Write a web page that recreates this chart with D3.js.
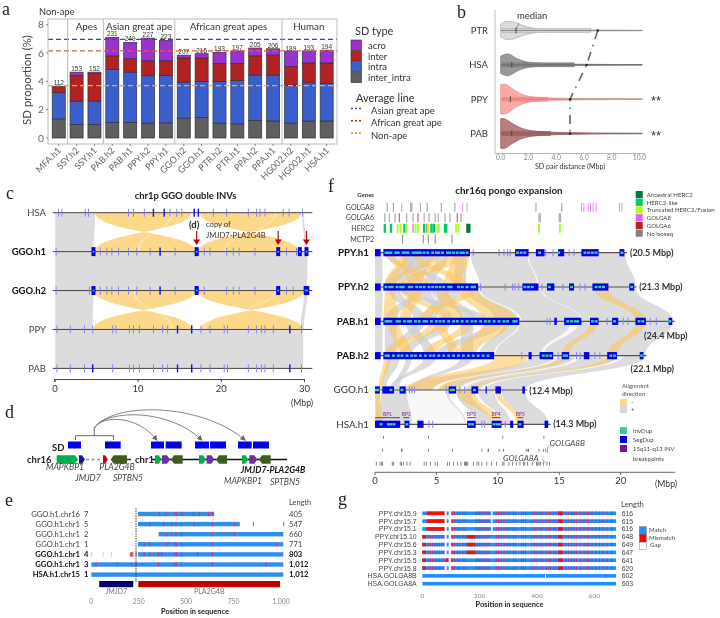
<!DOCTYPE html>
<html><head><meta charset="utf-8">
<script src="https://cdnjs.cloudflare.com/ajax/libs/d3/7.8.5/d3.min.js"></script>
<style>html,body{margin:0;padding:0;background:#fff}svg{display:block;filter:blur(.4px)}text{font-family:Lato,"Open Sans",sans-serif}</style>
</head><body><svg id="c" width="720" height="618"></svg>
<script>
// ---------- panel a data
const aSamples=["MFA.h1","SSY.h2","SSY.h1","PAB.h2","PAB.h1","PPY.h2","PPY.h1","GGO.h2","GGO.h1","PTR.h2","PTR.h1","PPA.h2","PPA.h1","HG002.h2","HG002.h1","HSA.h1"];
const aInterIntra=[1.35,.95,.95,1.1,1.1,1.05,1.07,1.4,1.45,1.05,1.0,1.25,1.2,1.05,1.2,1.2];
const aIntra=[1.85,1.65,1.65,3.75,3.55,3.35,3.35,2.55,2.55,2.95,3.05,3.2,3.25,2.65,2.7,2.65];
const aInter=[.45,1.8,1.95,.95,.95,1.05,1.03,1.7,1.65,1.25,1.2,1.35,1.4,1.35,1.4,1.45];
const aAcro=[0,.25,.1,1.3,1.15,1.6,1.45,.2,.3,.8,.9,.55,.45,1.05,.85,.9];
const aCounts=[112,153,152,231,249,227,223,207,215,193,197,205,206,189,193,194];
const aAverages=[6.97,6.15,3.7];
const aFacetEnds=["MFA.h1","SSY.h1","PPY.h1","PPA.h1"];
const aFacetNames=["Apes","Asian great ape","African great apes","Human"];
const aFacetCenters=[1.55,4.5,9.5,14];
const aYTicks=[0,2,4,6,8];
// ---------- panel b data
const bRows=["PTR","HSA","PPY","PAB"];
const bDensityAt=[0,.2,.5,.8,1.2,1.6,2,2.5,3,4,5,6.5,8,10.2];
const bPTR=[.72,.9,1,.98,.8,.55,.38,.22,.14,.09,.07,.06,.05,.03];
const bHSA=[.78,.9,1,.85,.55,.36,.24,.17,.13,.09,.06,.05,.03,.02];
const bPPY=[.98,1,.92,.72,.48,.3,.2,.14,.1,.07,.05,.04,.03,.02];
const bPAB=[.98,1,.88,.68,.48,.32,.22,.16,.12,.08,.06,.04,.03,.02];
const bHalfWidth=[9,11,15,15];
const bQ3=[6.5,5.3,3.4,3.6];
const bQ1=[.1,.1,.15,.1];
const bMedian=[1.1,.8,.7,.8];
const bMean=[7.0,6.2,5.0,5.0];
const bStars=["","","**","**"];
// ---------- panel c data
const cRows=["HSA","GGO.h1","GGO.h2","PPY","PAB"];
const cThin=[
[.5,.9,3.7,4.1,8.9,9.5,10.8,11.9,13.9,14.7,15.3,16.8,17.3,19.1,20.7,23.3,24.3,24.7,25.3,27.5,28.2,29.8],
[.2,5.5,6.3,6.9,7.7,8.9,9.9,11.5,12.7,14.5,18,18.7,20.7,21.5,22.2,24.1,27.9,29.1],
[.2,4.2,5.5,6.3,6.9,7.7,8.9,9.9,11.5,12.7,14.5,18,20.7,21.5,22.2,24.1,27.9,28.7],
[.3,1.9,3.6,4.6,7,7.4,9,9.5,10.2,11.9,13,13.6,16.5,17.6,18.7,20.4,20.8,23.3,24.3,24.9,25.3,26.3,29.7],
[.3,1.9,3.6,4.6,7,9,9.5,10.2,11.9,13,13.6,16.5,17.6,18.7,20.4,20.8,23.3,24.3,24.9,25.3,26.3,29.7]];
const cBold=[[11.9,13.2,16.8,17.3],[12.7],[12.7],[14.8,16.5,28.3],[4.6,14.8,16.5,28.3]];
const cBig=[[],[4.7,17.1,26.9,29.5,30.3],[4.7,17.1,26.9,30.2,30.4],[],[]];
const cGray=[[0,.1,4.9,.1,4.7],[0,29.8,30,30.1,30.4],[1,.1,30.4,.1,30.4],[2,.1,4.7,.1,4.6],[2,30,30.4,29.6,30],[3,.1,29.9,.1,29.9]];
const cOrange=[[0,4.9,16.4,17,4.9],[0,17.5,29.7,29.3,17.3],[2,4.8,17,16.5,4.7],[2,17.3,30,29.8,17.6]];
const cWhite=[[0,14,14.1,10,10.1],[0,26.5,26.6,20.5,20.6],[2,9.5,9.6,14.1,14.2],[2,26.5,26.6,18,18.1]];
const cArrows=[17.1,26.9,30.3];
const cTicks=[0,10,20,30];
// ---------- panel d data
const dSD=[[20,33],[57,72.7],[103,116],[117.7,133.7],[147,161],[162,178],[190,203.7],[205,221]];
const dGenes=[
[8.7,30,"#00b050",1],[31,37,"#1a1a80",1],[55,60,"#d00000",1],[62.7,79,"#3e5c1e",-1],
[107,113.7,"#00b050",1],[114,122,"#7030a0",1],[123,134.7,"#3e5c1e",-1],
[151,158,"#00b050",1],[158.7,166.3,"#7030a0",1],[168,179,"#3e5c1e",-1],
[194,200.3,"#00b050",1],[201.3,209.3,"#7030a0",1],[211,222.7,"#3e5c1e",-1]];
const dArcTargets=[[108.7,415],[153.7,408.7],[197,402]];
const dLabels=[["MAPKBP1",17,470,"normal"],["PLA2G4B",69,470,"normal"],["JMJD7",40,480.6,"normal"],["SPTBN5",80,480.6,"normal"],["JMJD7-PLA2G4B",225,473,"bold"],["MAPKBP1",195,484,"normal"],["SPTBN5",237,485,"normal"]];
// ---------- panel e data
const eRows=["GGO.h1.chr16","GGO.h1.chr1","GGO.h1.chr1","GGO.h1.chr1","GGO.h1.chr1","GGO.h1.chr1","HSA.h1.chr15"];
const eCopies=[7,5,2,1,4,3,1];
const eLengths=["405","547","660","771","803","1,012","1,012"];
const eBold=[0,0,0,0,1,1,1];
const eStart=[246,246,355,246,246,0,0];
const eEnd=[648,783,1012,1012,1012,1012,1012];
const eMis=[[358,394,441,450,478,538,568,617,638],[309,380,424,446,476,541,638,754,854,1014],[397,424,446,476,638,754],[278,309,397,441,450,476,638,977],[278,309,353,371,441,450,476,559,638,207,211,215,219,236],[25,137,213,235,353,441,450,476,638,921],[]];
const ePale=[[213],[213],[213],[213],[2,63,107],[],[]];
const eGenes=[["JMJD7",42,221,"#00006e"],["PLA2G4B",248,995,"#c00000"]];
const eTicks=[0,250,500,750,1000];
// ---------- panel f data
const fRows=["PPY.h1","PPY.h2","PAB.h1","PAB.h2","GGO.h1","HSA.h1"];
const fLen=[20.5,21.3,24.4,22.1,12.4,14.3];
const fBold=[1,1,1,1,0,0];
const fSizeText=["(20.5 Mbp)","(21.3 Mbp)","(24.4 Mbp)","(22.1 Mbp)","(12.4 Mbp)","(14.3 Mbp)"];
const fSizeAt=[20.75,21.5,21.9,20.8,12.55,14.5];
const fSizeDy=[3,3,18,16.3,4.5,3];
const fBlocks=[
[[0,.46],[.68,7.73],[11.4,12.5],[13.1,13.8],[14.9,15.4],[16.8,18.2],[19.9,20.3]],
[[0,.46],[.68,8.4],[12,13.3],[14,14.6],[15.8,16.2],[17.7,19],[20.7,21.1]],
[[0,.46],[.68,11.75],[14.6,14.8],[15.4,16.8],[17.5,18.2],[19.3,19.8],[21.2,22.05],[23.9,24.2]],
[[0,.46],[.68,9.7],[12.5,12.75],[13.4,14.5],[15.2,15.8],[17,17.45],[18.9,19.7],[21.55,21.85]],
[[0,.4],[.6,1.55],[2,2.5],[6,6.6],[7.85,8.4],[9,9.1],[9.8,10.25],[12,12.2]],
[[0,.52],[.1,2.05],[2.4,2.8],[3.45,3.95],[7.5,8.2],[9.5,10.3],[11,11.25],[11.6,12.1],[13.8,14.1]]];
const fThin=[
[8,10.1,10.5,10.8,11,13.9,14.5,15.8,16.2],
[8.6,10.6,11.2,11.4,11.7,13.6,15.3,16.7,17.1],
[14,14.25,18.9,20.2,20.6,22.4,22.9],
[11.95,14.9,16.4,16.7,17.9,18.3],
[2.8,3,3.2,5.8,6.9,7.3],
[4.4,4.7,8.7,8.9,10.6]];
const fGreen=[
[.9,1.1,1.3,1.7,1.9,2.3,2.5,2.7,3.1,3.3,3.5,3.7,4,4.3,4.7,5,5.2,5.5,5.9,6.1,6.4,6.7,7,7.2,7.5,11.6,11.9,12.2,13.4,14.95,17.1,17.4,17.7,18,20.1],
[.9,1.2,1.4,1.8,2.1,2.3,2.8,3,3.4,3.7,4,4.4,4.7,5,5.3,5.6,6,6.2,6.8,7.1,7.5,7.9,8.1,12.2,12.5,12.8,14.2,16,18,18.3,18.6,20.9],
[.9,1.1,1.3,1.8,2,2.4,2.7,2.9,3.3,3.6,4,4.2,4.6,5,5.3,5.6,6,6.4,6.7,7.1,7.5,7.9,8.2,8.6,9,9.3,9.7,10.1,10.5,10.8,11.3,11.5,15.7,16,16.3,16.5,17.7,18,19.5,21.5,21.8,24],
[.9,1.1,1.5,1.9,2.2,2.6,3,3.3,3.7,4.1,4.5,4.8,5.2,5.6,6,6.4,6.8,7.2,7.6,8,8.4,8.8,9.2,13.7,14,14.3,15.4,15.6,19.2,19.5,21.7],
[.1,.25,1.3,2.2,6.2,6.4,8.1],
[.5,1.1,1.3,1.55,2.6,7.7,7.95,9.7,9.95,10.15,11.8]];
const fGrayRibbons=[
[0,0,.6,0,.6],[0,7.8,20.4,8.5,21.2],[0,2.5,3.6,.8,1.6],[0,3.4,4.6,3,3.9],[0,4,5,1,1.7],[0,.8,1.5,5,5.9],[0,5,6,4,4.8],[0,6.5,7.5,6.5,7.4],[0,3,3.7,1.8,2.4],[0,2.2,2.9,2.6,3.3],
[1,0,.6,0,.6],[1,8.5,21.2,11.9,24.2],[1,1,2,3.2,4.2],[1,3,3.9,.8,1.7],[1,4.5,5.8,7,8.2],[1,5.5,7,3.8,5],[1,2,3,8,9.2],[1,7.4,8.4,9.8,11.7],[1,3.5,4.5,5.5,6.3],
[2,0,.6,0,.6],[2,11.8,24.2,9.8,22],[2,.8,1.8,.8,1.7],[2,2.5,3.4,4,4.9],[2,5,6.2,2,3],[2,7,8,7,8],[2,3,4,.8,1.6],[2,9,10.5,5,6.2],[2,10.5,11.7,8.5,9.7],
[3,12.7,22,2.6,12.3],[3,1,2,.5,.9],[3,4,5,1.2,1.6],[3,7,8,3,3.6],[3,2.5,3,1.6,2],
[4,.5,6,.1,7.4],[4,0,.4,0,.3],[4,6.6,7.8,8.2,9.5],[4,8.4,9.7,10.3,11],[4,10.3,12.2,12,14.1]];
const fOrangeRibbons=[
[0,2,2.8,.8,1.5],[0,5.7,7.3,2,3.2],[0,6.3,7.7,5.6,7],[0,3,3.8,6.4,7.6],[0,1,1.8,3.6,4.4],[0,4.6,5.4,1,1.7],
[1,.8,1.6,.7,1.9],[1,3,3.9,2,2.9],[1,5,6,6,7.2],[1,6.7,8.3,8.8,11.5],[1,2,2.8,5.3,6.3],[1,7.2,8.2,3.5,4.5],[1,17.8,19,21.2,22],
[2,1,2,2,3],[2,4.4,5.6,.8,1.8],[2,7,8,4,5],[2,8.8,11,6.6,8.2],[2,5,5.8,6,6.8],[2,17.5,18.2,15.2,15.8],[2,21.2,22,18.9,19.7],
[3,.7,1.3,.3,.6],[3,9.8,12.5,2.5,6],[3,15.2,15.8,6,6.6],[3,18.9,19.7,7.85,8.4],
[4,.05,.4,.1,.6],[4,6.6,8.1,9.5,10.3],[4,9.8,10.25,11.5,12.1]];
const fWhiteRibbons=[[0,12.4,12.5,13.2,13.3],[1,13.4,13.5,16.8,16.9],[2,15.9,16.6,13.5,13.75],[3,14.6,14.9,4.7,5.2],[3,16.3,16.7,6.9,7.4],[3,19.8,20.2,8.6,9],[4,2.6,5.8,3,7.3]];
const fGolga8Gray=[1,1.5,2.9,3,3.7,4.25,5.4,6.5,13.1,15.2];
const fGolga8Pink=[2.17,7.13,7.5,16.8,17,17.35,17.55,17.75,18,19.9,20.1];
const fGolga6Gray=[.8,1.17,1.63,2.58,3.1,4,4.4,4.9,5.15,5.7,6.1,7,13.35,13.45,15,15.1];
const fGolga6Red=[1.98,3.5,6.7];
const fHercLike=[.8,1.3,2.4,4,4.6,4.8,5.7,5.8];
const fHercTrunc=[1.85,2.1,2.55,3.3,3.5,4.35,5.1,5.2,6.6,6.8,13.35,15.05];
const fHercAnc=[7.5,7.6,7.7];
const fHercGray=[3.1,4.2];
const fMctp2=[2.25,3.93,4.34,4.9,6.27];
const fSites=[
[.68,4.37,10.4,13.75],
[.62,2.15,2.2,4.37,6.3,8.7,9.2,9.25,10.1,10.45,12.3,12.45,12.5,13.35,13.7,13.9],
[.1,.4,.55,.6,1.4,1.5,2.05,2.15,2.3,2.6,2.85,4,4.2,4.5,4.9,5.1,5.9,6.05,6.4,6.7,7,7.3,7.35,7.45,7.55,8,8.3,8.45,8.7,9.1,9.5,9.9,10.4,10.5,10.9,11.2,11.5,11.8,12.1,12.2,12.4,12.8,13.15,13.25,13.35,13.45,13.7,14,14.2]];
const fSiteHeights=[3,3,4];
const fBreaks=[["BP1",0,2.03],["BP2",2.3,2.79],["BP3",7.5,8.2],["BP4",9.5,10.2],["BP5",11.58,12.07]];
const fTicks=[0,5,10,15,20];
const fGeneLegend=[["Ancestral HERC2","#007a3d"],["HERC2-like","#00cc66"],["Truncated HERC2/Fusion","#aaff22"],["GOLGA8","#e066ee"],["GOLGA6","#b22222"],["No isoseq","#808080"]];
// ---------- panel g data
const gRows=["PPY.chr15.9","PPY.chr15.7","PPY.chr15.1","PPY.chr15.10","PPY.chr15.6","PPY.chr15.3","PPY.chr15.5","PPY.chr15.8","HSA.GOLGA8B","HSA.GOLGA8A"];
const gLengths=[616,615,616,648,649,647,641,620,602,603];
const gTicks=[0,200,400,600];
const gSharedMis=[105,112,122,130,142,150,187,192,199,205,212,219,226,232,258,266,274,285,295,305,318,326,345,352,360,382,392,400,410,418,432,441,448,458,466,474,500,510,520,530,538,552,564,574,580,592,605,618,630,644,660];
const gEarlyMis=[20,28,36,45,52,60,68,76];
const gBlocks=[
[[15,80],[475,490]],[[15,80],[475,490]],[[15,80],[475,490]],
[[0,12],[155,185],[475,490]],[[0,12],[155,185],[475,490]],[[0,12],[155,185],[475,490]],
[[0,12],[82,103],[475,490]],[[0,12],[475,490]],[],[]];
const gGaps=[[[78,85],[92,100],[240,245]],[[78,85],[92,100],[240,245]],[[78,85],[92,100],[240,245]],
[[78,85],[92,100]],[[78,85],[92,100]],[[78,85],[92,100]],[[92,100]],[[78,85],[92,100]],[[428,431]],[]];
const gExtra=[[],[],[],[],[],[],[],[],[640],[]];
const gEnd=676;

// ---------- drawing
const svg=d3.select("#c");
const DK="#333",GR="#666",FS=1.09;
function letter(t,x,y){svg.append("text").text(t).attr("x",x).attr("y",y).style("font-family","'Liberation Serif',serif").style("font-size","18px").attr("fill","#222");}
[["a",2,15],["b",457,18],["c",6,199],["d",5,418],["e",5,506],["f",328,192],["g",338,505]].forEach(d=>letter(...d));
function txt(g,t,x,y,size,opts={}){const s=g.append("text").text(t).attr("x",x).attr("y",y).style("font-size",(size*FS)+"px").attr("fill",opts.fill||DK).attr("text-anchor",opts.anchor||"start");if(opts.weight)s.style("font-weight",opts.weight);if(opts.style)s.style("font-style",opts.style);if(opts.family)s.style("font-family",opts.family);if(opts.rotate!=null)s.attr("transform",`rotate(${opts.rotate},${x},${y})`);return s;}
function ribbonPath(x,y0,y1,r){const[a0,a1,b0,b1]=r,m=(y0+y1)/2,p=d3.path();p.moveTo(x(a0),y0);p.bezierCurveTo(x(a0),m,x(b0),m,x(b0),y1);p.lineTo(x(b1),y1);p.bezierCurveTo(x(b1),m,x(a1),m,x(a1),y0);p.closePath();return p.toString();}

// panel a
(function(){
const g=svg.append("g");
const x=d3.scaleBand().domain(aSamples).range([49.8,335.6]).paddingInner(.27).paddingOuter(.135);
const y=d3.scaleLinear().domain([0,8]).range([138,24.7]);
const rows=aSamples.map((s,i)=>({s,inter_intra:aInterIntra[i],intra:aIntra[i],inter:aInter[i],acro:aAcro[i]}));
const keys=["inter_intra","intra","inter","acro"];
const col=d3.scaleOrdinal(keys,["#5f5f5f","#3a5fcd","#b22222","#9a32cd"]);
g.selectAll("g.s").data(d3.stack().keys(keys)(rows)).join("g").attr("fill",d=>col(d.key)).selectAll("rect").data(d=>d).join("rect")
 .attr("x",d=>x(d.data.s)).attr("width",x.bandwidth()).attr("y",d=>y(d[1])).attr("height",d=>Math.max(0,y(d[0])-y(d[1]))).attr("stroke","#333").attr("stroke-width",.7);
aAverages.forEach((v,i)=>g.append("line").attr("x1",48).attr("x2",337).attr("y1",y(v)).attr("y2",y(v)).attr("stroke",["#4040c0","#dd5555","#e6b030"][i]).attr("stroke-width",1.3).attr("stroke-dasharray","5 3"));
g.selectAll("text.c").data(aCounts).join("text").attr("x",(d,i)=>x(aSamples[i])+x.bandwidth()/2).attr("y",(d,i)=>y(aInterIntra[i]+aIntra[i]+aInter[i]+aAcro[i])-1).attr("text-anchor","middle").style("font-size","6.5px").style("font-family","'Liberation Sans',sans-serif").attr("fill","#333").text(d=>d);
g.append("rect").attr("x",48).attr("y",19).attr("width",289).attr("height",125).attr("fill","none").attr("stroke","#bbb").attr("stroke-width",1);
aFacetEnds.forEach(s=>{const p=x(s)+x.step()-(x.step()-x.bandwidth())/2;g.append("line").attr("x1",p).attr("x2",p).attr("y1",19).attr("y2",144).attr("stroke","#bbb");});
aFacetNames.forEach((n,i)=>txt(g,n,x(aSamples[0])+x.bandwidth()/2+aFacetCenters[i]*x.step(),29.5,9,{anchor:"middle"}));
txt(g,"Non-ape",39,14.5,8.5);
aYTicks.forEach(v=>{txt(g,v,44,y(v)+3.5,9.5,{anchor:"end",fill:"#666"});g.append("line").attr("x1",46).attr("x2",48).attr("y1",y(v)).attr("y2",y(v)).attr("stroke","#888");});
txt(g,"SD proportion (%)",31,80,10.5,{anchor:"middle",rotate:-90,fill:"#444"});
aSamples.forEach(s=>{const c=x(s)+x.bandwidth()/2;g.append("line").attr("x1",c).attr("x2",c).attr("y1",144).attr("y2",146).attr("stroke","#888");txt(g,s,c+3,151,8.3,{anchor:"end",rotate:-45,fill:"#666"});});
txt(g,"SD type",355,35,10,{fill:"#333"});
["acro","inter","intra","inter_intra"].forEach((k,i)=>{g.append("rect").attr("x",351).attr("y",40+i*10.8).attr("width",10.5).attr("height",10.2).attr("fill",col(k)).attr("stroke","#333").attr("stroke-width",.6);txt(g,k,368,48.7+i*10.8,8.7);});
txt(g,"Average line",356,102,10,{fill:"#333"});
["Asian great ape","African great ape","Non-ape"].forEach((k,i)=>{g.append("line").attr("x1",351).attr("x2",361).attr("y1",108.5+i*12.3).attr("y2",108.5+i*12.3).attr("stroke",["#4040c0","#c02020","#e6a020"][i]).attr("stroke-width",1.6).attr("stroke-dasharray","2 2");txt(g,k,371,114+i*12.3,8.7);});
})();

// panel b
(function(){
const g=svg.append("g");
const x=d3.scaleLinear().domain([0,10]).range([500.7,639.4]);
const y=d3.scalePoint().domain(bRows).range([30.5,133.5]);
g.append("path").attr("d","M495,10V153.5H645").attr("fill","none").attr("stroke","#bbb").attr("stroke-width",1);
const fills=["#dcdcdc","#9a9a9a","#ffa8a8","#b87e7e"],strokes=["#aaa","#777","#e08a8a","#8a5a5a"],box=["#cfcfcf","#858585","#ff8d8d","#a06464"],wh=["#888","#666","#b88","#866"];
const dens=[bPTR,bHSA,bPPY,bPAB];
bRows.forEach((r,i)=>{const c=y(r),w=bHalfWidth[i];
 const area=d3.area().x(d=>x(d[0])).y0(d=>c-d[1]*w).y1(d=>c+d[1]*w).curve(d3.curveMonotoneX);
 g.append("path").attr("d",area(bDensityAt.map((a,j)=>[a,dens[i][j]]))).attr("fill",fills[i]).attr("stroke",strokes[i]).attr("stroke-width",.7);
 g.append("rect").attr("x",x(bQ1[i])).attr("y",c-2).attr("width",x(bQ3[i])-x(bQ1[i])).attr("height",4).attr("fill",box[i]).attr("stroke",strokes[i]).attr("stroke-width",.5);
 g.append("line").attr("x1",x(0)).attr("x2",x(10.2)).attr("y1",c).attr("y2",c).attr("stroke",wh[i]).attr("stroke-width",.9);
 g.append("line").attr("x1",x(bMedian[i])).attr("x2",x(bMedian[i])).attr("y1",c-3).attr("y2",c+3).attr("stroke","#444").attr("stroke-width",.9);
 txt(g,r,488,c+3.5,8.7,{anchor:"end"});
 if(bStars[i])txt(g,bStars[i],651,c+6,12,{family:"'Liberation Sans',sans-serif"});
});
const ln=d3.line().x(d=>x(d[0])).y(d=>y(d[1]));
g.append("path").attr("d",ln(bRows.map((r,i)=>[bMean[i],r]))).attr("fill","none").attr("stroke","#666").attr("stroke-width",1.6).attr("stroke-dasharray","9 6 1.5 6");
bRows.forEach((r,i)=>g.append("circle").attr("cx",x(bMean[i])).attr("cy",y(r)).attr("r",1.2).attr("fill","#222"));
x.ticks(4).forEach(v=>txt(g,d3.format(".1f")(v),x(v),159.5,6.2,{anchor:"middle",fill:"#888"}));
txt(g,"SD pair distance (Mbp)",570,168.5,6.5,{anchor:"middle",fill:"#333"});
txt(g,"median",517,19,8.7,{fill:"#333"});
g.append("line").attr("x1",x(bMedian[0])).attr("x2",x(bMedian[0])+3).attr("y1",30).attr("y2",23).attr("stroke","#555").attr("stroke-width",.6);
})();

// panel c
(function(){
const g=svg.append("g");
const x=d3.scaleLinear().domain([0,30]).range([54.4,304]);
const y=d3.scalePoint().domain(cRows).range([212.7,368.4]);
const ry=i=>y(cRows[i]);
const draw=(arr,fill,op)=>g.selectAll(null).data(arr).join("path").attr("d",r=>ribbonPath(x,ry(r[0]),ry(r[0]+1),r.slice(1))).attr("fill",fill).attr("opacity",op);
draw(cGray,"#dcdcdc",1);draw(cOrange,"#fbd88a",1);draw(cWhite,"#fff",.8);
cRows.forEach((r,i)=>{const c=ry(i);
 g.append("line").attr("x1",x(-.2)).attr("x2",x(31)).attr("y1",c).attr("y2",c).attr("stroke","#444").attr("stroke-width",1);
 g.selectAll(null).data(cThin[i]).join("rect").attr("x",d=>x(d)-.4).attr("width",.9).attr("y",c-4).attr("height",8).attr("fill","#7a7aff");
 g.selectAll(null).data(cBold[i]).join("rect").attr("x",d=>x(d)-.7).attr("width",1.4).attr("y",c-4).attr("height",8).attr("fill","#1010ee");
 g.selectAll(null).data(cBig[i]).join("rect").attr("x",d=>x(d)-2).attr("width",4).attr("y",c-4.5).attr("height",9).attr("fill","#0000ee");
 g.selectAll(null).data(cBig[i]).join("circle").attr("cx",d=>x(d)).attr("cy",c).attr("r",1).attr("fill","#33cc88");
 txt(g,r,46,c+3.3,8.7,{anchor:"end",weight:(i==1||i==2)?"700":null,fill:(i==1||i==2)?"#111":"#444"});
});
txt(g,"chr1p GGO double INVs",185.5,199,8.7,{anchor:"middle",weight:"700",fill:"#222"});
txt(g,"(d)",189,228,8.7,{weight:"700",fill:"#222"});
txt(g,"copy of",206,227,7,{fill:"#333"});
txt(g,"JMJD7-PLA2G4B",206,238,7,{fill:"#333"});
cArrows.forEach(v=>{g.append("line").attr("x1",x(v)).attr("x2",x(v)).attr("y1",231).attr("y2",240).attr("stroke","#c00000").attr("stroke-width",1.2);g.append("path").attr("d",`M${x(v)-3.5},239.5h7L${x(v)},245Z`).attr("fill","#c00000");});
g.append("g").attr("transform","translate(0,379)").call(d3.axisBottom(x).tickValues(cTicks).tickSize(3).tickFormat(d3.format("d"))).call(s=>{s.selectAll("text").attr("fill","#333").style("font-size","9.5px").style("font-family","Lato").attr("dy",".7em");s.selectAll("path,line").attr("stroke","#444");});
txt(g,"(Mbp)",291,406,8,{fill:"#333"});
})();

// panel d
(function(){
const g=svg.append("g");
const x=d3.scaleLinear().domain([0,250]).range([48,298]);
const cy=459.5;
g.append("defs").append("marker").attr("id","ah").attr("viewBox","0 0 10 10").attr("refX",8).attr("refY",5).attr("markerWidth",7).attr("markerHeight",7).attr("orient","auto").append("path").attr("d","M0,0L10,5L0,10Z").attr("fill","#666");
g.selectAll(null).data(dSD).join("rect").attr("x",d=>x(d[0])).attr("width",d=>x(d[1])-x(d[0])).attr("y",441.5).attr("height",7).attr("fill","#0000ee");
g.append("path").attr("d","M75.5,440V435.7H113.5V440M94.3,435.7V427").attr("fill","none").attr("stroke","#444").attr("stroke-width",.8);
dArcTargets.forEach(d=>{const[tx,c]=d;const mx=x(tx);g.append("path").attr("d",`M94.3,428C${94.3+(mx-94.3)*.12},${c} ${94.3+(mx-94.3)*.7},${c} ${mx},440`).attr("fill","none").attr("stroke","#666").attr("stroke-width",.8).attr("marker-end","url(#ah)");});
g.append("line").attr("x1",x(79)).attr("x2",x(83)).attr("y1",cy).attr("y2",cy).attr("stroke","#222").attr("stroke-width",1.4);
g.append("line").attr("x1",x(38)).attr("x2",x(54)).attr("y1",cy).attr("y2",cy).attr("stroke","#999").attr("stroke-width",1.4).attr("stroke-dasharray","3 2.5");
g.append("line").attr("x1",x(104)).attr("x2",x(239)).attr("y1",cy).attr("y2",cy).attr("stroke","#111").attr("stroke-width",1.4);
dGenes.forEach(d=>{const a=x(d[0]),b=x(d[1]),h=4.2,t=3;const pts=d[3]>0?`${a},${cy-h} ${b-t},${cy-h} ${b},${cy} ${b-t},${cy+h} ${a},${cy+h}`:`${a+t},${cy-h} ${b},${cy-h} ${b},${cy+h} ${a+t},${cy+h} ${a},${cy}`;g.append("polygon").attr("points",pts).attr("fill",d[2]);});
txt(g,"SD",52,450.5,8.7,{weight:"700",fill:"#222"});
txt(g,"chr16",27,462.5,8.7,{weight:"700",fill:"#222"});
txt(g,"chr1",135,462.5,8.7,{weight:"700",fill:"#222"});
dLabels.forEach(l=>txt(g,l[0],x(l[1]),l[2],7.9,{anchor:"middle",style:"italic",weight:l[3]=="bold"?"700":null,fill:l[3]=="bold"?"#111":"#444"}));
g.append("line").attr("x1",254).attr("x2",258).attr("y1",463).attr("y2",468).attr("stroke","#777").attr("stroke-width",.6);
})();

// panel e
(function(){
const g=svg.append("g");
const x=d3.scaleLinear().domain([0,1000]).range([91.3,281]);
const y=d3.scalePoint().domain(d3.range(7)).range([514,574.6]);
eRows.forEach((r,i)=>{const c=y(i),bold=eBold[i]?"700":null,fill=eBold[i]?"#111":"#444";
 txt(g,r,80,c+2.5,7,{anchor:"end",weight:bold,fill});
 txt(g,eCopies[i],84,c+2.5,7,{weight:bold,fill});
 g.append("rect").attr("x",x(eStart[i])).attr("width",x(eEnd[i])-x(eStart[i])).attr("y",c-2.2).attr("height",4.4).attr("fill","#2f8ff0");
 g.selectAll(null).data(eMis[i]).join("rect").attr("x",d=>x(d)-.4).attr("width",.9).attr("y",c-2.2).attr("height",4.4).attr("fill","#e03050");
 g.selectAll(null).data(ePale[i]).join("rect").attr("x",d=>x(d)-.5).attr("width",1).attr("y",c-2.2).attr("height",4.4).attr("fill",i==4?"#f8c0c0":"#d6ebfb");
 txt(g,eLengths[i],289,c+2.5,7,{weight:bold,fill});
});
txt(g,"Length",289,505,6.8,{fill:"#444"});
g.append("line").attr("x1",136).attr("x2",136).attr("y1",508).attr("y2",582).attr("stroke","#333").attr("stroke-width",.9).attr("stroke-dasharray","1.5 1");
eGenes.forEach(d=>{g.append("rect").attr("x",x(d[1])).attr("width",x(d[2])-x(d[1])).attr("y",581).attr("height",6.2).attr("fill",d[3]);txt(g,d[0],(x(d[1])+x(d[2]))/2,594,6.5,{anchor:"middle",fill:"#777"});});
eTicks.forEach(v=>txt(g,d3.format(",")(v),x(v),604,6.2,{anchor:"middle",fill:"#888"}));
txt(g,"Position in sequence",195,613.5,6.8,{anchor:"middle",weight:"700",fill:"#222"});
})();

// panel f
(function(){
const g=svg.append("g");
const x=d3.scaleLinear().domain([0,20]).range([375,620.7]);
const y=d3.scalePoint().domain(fRows).range([252.7,424.3]);
const ry=i=>y(fRows[i]);
const draw=(arr,fill,op)=>g.selectAll(null).data(arr).join("path").attr("d",r=>ribbonPath(x,ry(r[0]),ry(r[0]+1),r.slice(1))).attr("fill",fill).attr("opacity",op);
draw(fGrayRibbons,"#cfcfcf",.72);draw(fOrangeRibbons,"#fcc860",.6);draw(fWhiteRibbons,"#fff",.8);
fRows.forEach((r,i)=>{const c=ry(i);
 g.append("line").attr("x1",x(0)).attr("x2",x(fLen[i])).attr("y1",c).attr("y2",c).attr("stroke","#555").attr("stroke-width",1.2);
 g.selectAll(null).data(fThin[i]).join("rect").attr("x",d=>x(d)-.5).attr("width",1).attr("y",c-3.5).attr("height",7).attr("fill","#8080ff");
 g.selectAll(null).data(fBlocks[i]).join("rect").attr("x",d=>x(d[0])).attr("width",d=>x(d[1])-x(d[0])).attr("y",c-3.6).attr("height",7.2).attr("fill","#0000ee");
 g.selectAll(null).data(fGreen[i]).join("rect").attr("x",d=>x(d)-1.5).attr("width",2.9).attr("y",c-1.2).attr("height",2.4).attr("fill","#40d090");
 txt(g,r,369,c+3.2,9,{anchor:"end",weight:fBold[i]?"700":null,fill:fBold[i]?"#111":"#333"});
 txt(g,fSizeText[i],x(fSizeAt[i]),c+fSizeDy[i],8.3,{weight:"700",fill:"#333"});
});
fBreaks.forEach(b=>{g.append("line").attr("x1",x(b[1])).attr("x2",x(b[2])).attr("y1",417.7).attr("y2",417.7).attr("stroke","#7a2b8f").attr("stroke-width",1);txt(g,b[0],(x(b[1])+x(b[2]))/2,416,4.5,{anchor:"middle",fill:"#7a2b8f"});});
const tracks=[[fGolga8Gray,"#aaa",207.3,1.2],[fGolga8Pink,"#e8a0f0",207.3,1.2],[fGolga6Gray,"#aaa",217.7,1.2],[fGolga6Red,"#d06060",217.7,1.2],[fHercLike,"#00cc66",228.3,2.4],[fHercTrunc,"#aaff22",228.3,1.8],[fHercAnc,"#007a3d",228.3,1.8],[fHercGray,"#999",228.3,1.2],[fMctp2,"#999",239,1.2]];
tracks.forEach(t=>g.selectAll(null).data(t[0]).join("rect").attr("x",d=>x(d)-t[3]/2).attr("width",t[3]).attr("y",t[2]-4.5).attr("height",9).attr("fill",t[1]));
["GOLGA8","GOLGA6","HERC2","MCTP2"].forEach((n,i)=>txt(g,n,374,[209.8,220.2,230.8,241.5][i],6.5,{anchor:"end",fill:"#444"}));
txt(g,"Genes",374,197,5.5,{anchor:"end",weight:"700",fill:"#333"});
txt(g,"chr16q pongo expansion",509,194,9,{anchor:"middle",weight:"700",fill:"#222"});
fGeneLegend.forEach((d,i)=>{g.append("rect").attr("x",635.7).attr("y",191+i*7.7).attr("width",7).attr("height",7.2).attr("fill",d[1]);txt(g,d[0],646.7,197+i*7.7,5.6,{fill:"#444"});});
fSites.forEach((s,i)=>{const c=[437.3,450.3,463.7][i];g.selectAll(null).data(s).join("rect").attr("x",d=>x(d)-.35).attr("width",.7).attr("y",c-fSiteHeights[i]/2).attr("height",fSiteHeights[i]).attr("fill","#555");});
txt(g,"GOLGA8B",549.5,446,7.5,{style:"italic",fill:"#444"});
txt(g,"GOLGA8A",503,461,7.5,{style:"italic",fill:"#444"});
g.append("path").attr("d","M547.5,453V447.5L550,445.5").attr("fill","none").attr("stroke","#e05060").attr("stroke-width",.7);
g.append("path").attr("d","M542,459L545,463").attr("fill","none").attr("stroke","#e05060").attr("stroke-width",.7);
g.append("line").attr("x1",x(0)).attr("x2",675).attr("y1",472.3).attr("y2",472.3).attr("stroke","#666");
fTicks.forEach(v=>{g.append("line").attr("x1",x(v)).attr("x2",x(v)).attr("y1",472.3).attr("y2",475).attr("stroke","#666");txt(g,v,x(v),484,8.7,{anchor:"middle",fill:"#333"});});
txt(g,"(Mbp)",655,487,8,{fill:"#333"});
txt(g,"Alignment",622,387.5,5.5,{fill:"#555"});txt(g,"direction",622,396,5.5,{fill:"#555"});
g.append("rect").attr("x",620).attr("y",399).attr("width",7).attr("height",7).attr("fill","#fcd68a");
g.append("rect").attr("x",620).attr("y",406).attr("width",7).attr("height",7).attr("fill","#d8d8d8");
txt(g,"-",631,404,5.5,{fill:"#555"});txt(g,"+",631,412,5.5,{fill:"#555"});
[["InvDup","#3ecf8e"],["SegDup","#0000ee"],["15q11-q13 INV","#6a1b9a"]].forEach((d,i)=>{g.append("rect").attr("x",620).attr("y",427+i*9).attr("width",7).attr("height",7).attr("fill",d[1]);txt(g,d[0],633,433+i*9,5.5,{fill:"#444"});});
txt(g,"breakpoints",633,461,5.5,{fill:"#444"});
})();

// panel g
(function(){
const g=svg.append("g");
const x=d3.scaleLinear().domain([0,600]).range([422.3,594.3]);
const y=d3.scalePoint().domain(gRows).range([513.3,583.7]);
const LS="'Liberation Sans',sans-serif";
gRows.forEach((r,i)=>{const c=y(r),h=3.6;
 g.append("rect").attr("x",x(0)).attr("width",x(gEnd)-x(0)).attr("y",c-h/2).attr("height",h).attr("fill","#1e8fff");
 if(i<8){
  g.selectAll(null).data(gSharedMis).join("rect").attr("x",d=>x(d)-.4).attr("width",.9).attr("y",c-h/2).attr("height",h).attr("fill","#cc2a6a");
  if(i>2)g.selectAll(null).data(gEarlyMis).join("rect").attr("x",d=>x(d)-.4).attr("width",.9).attr("y",c-h/2).attr("height",h).attr("fill","#cc2a6a");
 }
 g.selectAll(null).data(gBlocks[i]).join("rect").attr("x",d=>x(d[0])).attr("width",d=>x(d[1])-x(d[0])).attr("y",c-h/2).attr("height",h).attr("fill","#f01010");
 g.selectAll(null).data(gGaps[i]).join("rect").attr("x",d=>x(d[0])).attr("width",d=>x(d[1])-x(d[0])).attr("y",c-h/2-.3).attr("height",h+.6).attr("fill","#fff");
 g.selectAll(null).data(gExtra[i]).join("rect").attr("x",d=>x(d)-.4).attr("width",.9).attr("y",c-h/2).attr("height",h).attr("fill","#cc2a6a");
 txt(g,r,416.7,c+2.5,6.35,{anchor:"end",fill:"#444",family:LS});
 txt(g,gLengths[i],621.7,c+2.5,6.35,{fill:"#444",family:LS});
});
txt(g,"Length",621,507,7,{fill:"#444"});
gTicks.forEach(v=>txt(g,v,x(v),598,6,{anchor:"middle",fill:"#888"}));
txt(g,"Position in sequence",509.5,606.5,6.8,{anchor:"middle",weight:"700",fill:"#222"});
[["Match","#1e8fff"],["Mismatch","#ff0000"],["Gap","#fff"]].forEach((d,i)=>{g.append("rect").attr("x",639.5).attr("y",526.7+i*7.7).attr("width",6.8).attr("height",7.5).attr("fill",d[1]).attr("stroke","#333").attr("stroke-width",.3);txt(g,d[0],i==2?650:649,532+i*7.7,5.6,{fill:"#444"});});
})();
</script></body></html>
